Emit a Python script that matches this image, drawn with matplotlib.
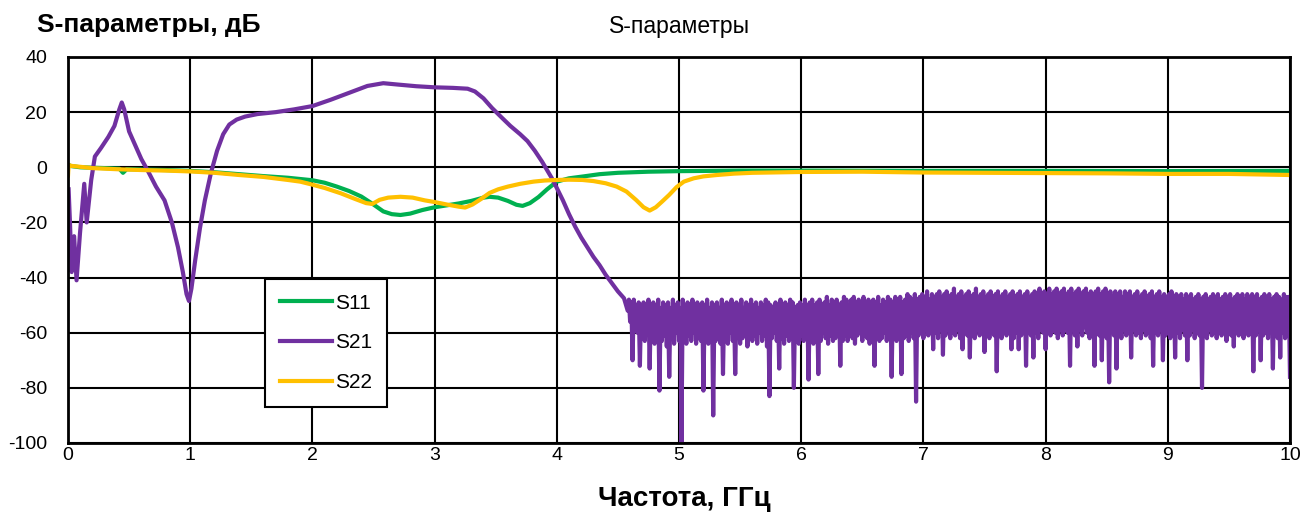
import numpy as np
import matplotlib.pyplot as plt
from matplotlib import font_manager

names = {f.name for f in font_manager.fontManager.ttflist}
narrow = "Liberation Sans Narrow" if "Liberation Sans Narrow" in names else "Liberation Sans"
plt.rcParams["font.family"] = ["Liberation Sans", "DejaVu Sans"]
plt.rcParams["axes.unicode_minus"] = False
plt.rcParams["path.simplify"] = False  # keep the noisy S21 band solid

# S11 (green)
s11_f = [0.0, 0.02, 0.1, 0.3, 0.42, 0.45, 0.48, 0.6, 0.8, 1.0, 1.2, 1.4, 1.6, 1.8, 2.0,
         2.1, 2.2, 2.3, 2.4, 2.5, 2.58, 2.65, 2.72, 2.8, 2.9, 3.0, 3.1, 3.2, 3.3, 3.4,
         3.45, 3.52, 3.6, 3.67, 3.72, 3.78, 3.85, 3.92, 4.0, 4.1, 4.22, 4.35, 4.5, 4.75,
         5.0, 5.5, 6.0, 7.0, 8.0, 9.0, 10.0]
s11_db = [1.0, 0.5, 0.0, -0.3, -0.5, -2.0, -0.7, -0.8, -1.0, -1.3, -1.8, -2.5, -3.2, -3.8, -4.7,
          -5.6, -7.0, -8.6, -10.6, -13.5, -16.0, -17.0, -17.3, -16.8, -15.5, -14.5, -13.8, -13.1, -12.2, -11.0,
          -10.7, -11.0, -12.2, -13.6, -14.0, -13.0, -10.8, -8.0, -5.2, -4.0, -3.3, -2.5, -2.0, -1.6,
          -1.4, -1.2, -1.2, -1.3, -1.3, -1.4, -1.3]

# S21 (purple), smooth part
s21_f = [0.005, 0.016, 0.03, 0.05, 0.07, 0.098, 0.133, 0.153, 0.19, 0.22, 0.27, 0.33, 0.38,
         0.42, 0.44, 0.46, 0.50, 0.55, 0.60, 0.65, 0.72, 0.79, 0.85, 0.90, 0.94, 0.97, 0.99,
         1.01, 1.04, 1.08, 1.12, 1.17, 1.22, 1.27, 1.32, 1.38, 1.45, 1.55, 1.70, 1.85, 2.00,
         2.15, 2.30, 2.45, 2.58, 2.70, 2.85, 3.00, 3.15, 3.27, 3.33, 3.40, 3.47, 3.55, 3.62,
         3.70, 3.76, 3.82, 3.88, 3.92, 3.96, 4.00, 4.05, 4.10, 4.15, 4.20, 4.25, 4.30, 4.35,
         4.40, 4.45, 4.50, 4.55]
s21_db = [-8, -20, -38, -25, -41, -24, -6, -20, -4.6, 3.9, 7, 11, 15,
          21, 23.5, 21, 13, 8, 3, -1, -7, -12, -20, -29, -38, -46, -48.5,
          -44, -34, -22, -12, -2, 6, 12, 15.5, 17.3, 18.4, 19.3, 20, 21, 22.2,
          24.5, 27, 29.5, 30.5, 30, 29.4, 29, 28.8, 28.5, 27.5, 25, 21.5, 18, 15,
          12, 9.5, 6, 2, -1, -4, -7.5, -12, -17, -21.5, -25.5, -29, -32.5, -35.5,
          -39, -42, -45, -47.5]

# S21 noise floor, read every 0.01 GHz from 4.58 GHz (one row = 0.1 GHz)
noise_start, noise_step = 4.58, 0.01
noise_db = [
    -52, -48, -56, -49, -70, -48, -58, -50, -60, -49,
    -72, -50, -61, -49, -63, -51, -59, -48, -73, -50,
    -62, -49, -64, -50, -60, -48, -81, -51, -63, -49,
    -61, -50, -65, -49, -76, -51, -62, -48, -64, -50,
    -60, -49, -63, -51, -100, -48, -62, -50, -64, -49,
    -61, -50, -63, -48, -60, -51, -64, -49, -62, -50,
    -63, -49, -81, -50, -61, -48, -64, -51, -62, -49,
    -90, -50, -63, -49, -61, -51, -64, -48, -75, -50,
    -62, -49, -64, -50, -60, -48, -63, -51, -75, -49,
    -61, -50, -64, -48, -62, -51, -60, -49, -65, -50,
    -62, -48, -63, -50, -61, -49, -64, -51, -60, -49,
    -63, -50, -61, -48, -65, -49, -83, -50, -62, -51,
    -60, -49, -63, -50, -73, -48, -62, -51, -64, -49,
    -61, -50, -63, -48, -60, -49, -80, -51, -62, -50,
    -64, -49, -61, -50, -63, -48, -60, -50, -77, -49,
    -62, -48, -64, -50, -61, -49, -75, -48, -63, -50,
    -60, -49, -62, -47, -64, -50, -61, -48, -63, -49,
    -62, -48, -60, -50, -72, -49, -63, -47, -61, -48,
    -63, -50, -60, -48, -62, -47, -64, -49, -61, -48,
    -60, -49, -63, -47, -61, -50, -62, -48, -64, -49,
    -61, -48, -72, -49, -60, -47, -63, -50, -62, -48,
    -60, -49, -63, -47, -61, -48, -76, -49, -62, -47,
    -63, -48, -60, -47, -75, -49, -62, -48, -61, -46,
    -63, -47, -60, -48, -62, -46, -85, -48, -61, -47,
    -60, -46, -62, -47, -59, -45, -61, -48, -60, -46,
    -66, -47, -60, -46, -62, -45, -59, -47, -68, -46,
    -61, -45, -59, -47, -62, -46, -60, -44, -61, -47,
    -59, -46, -62, -45, -66, -47, -60, -46, -61, -45,
    -69, -47, -60, -46, -62, -44, -59, -47, -61, -46,
    -60, -45, -67, -47, -59, -46, -62, -45, -60, -47,
    -61, -46, -74, -45, -60, -47, -62, -46, -59, -45,
    -61, -47, -60, -46, -66, -45, -62, -47, -60, -46,
    -66, -45, -61, -47, -59, -46, -72, -45, -60, -47,
    -61, -46, -69, -45, -60, -47, -62, -44, -59, -46,
    -60, -45, -66, -46, -59, -44, -61, -46, -58, -45,
    -60, -44, -62, -46, -59, -45, -61, -44, -58, -46,
    -60, -45, -72, -44, -59, -46, -61, -45, -65, -44,
    -59, -46, -61, -45, -58, -44, -60, -46, -62, -45,
    -59, -46, -72, -45, -60, -44, -61, -46, -70, -45,
    -60, -44, -62, -46, -78, -45, -59, -47, -61, -45,
    -73, -46, -60, -45, -62, -47, -59, -45, -61, -46,
    -60, -45, -69, -47, -59, -46, -61, -45, -60, -47,
    -62, -46, -59, -45, -61, -47, -60, -46, -62, -45,
    -72, -47, -60, -46, -61, -45, -59, -47, -70, -46,
    -61, -47, -60, -46, -62, -45, -59, -47, -69, -46,
    -60, -47, -62, -46, -59, -48, -61, -46, -70, -47,
    -61, -46, -59, -48, -62, -47, -60, -46, -61, -48,
    -80, -47, -60, -46, -62, -48, -59, -47, -61, -46,
    -60, -47, -62, -46, -59, -48, -61, -47, -60, -46,
    -63, -47, -60, -46, -61, -48, -65, -47, -59, -46,
    -61, -47, -60, -46, -62, -48, -59, -46, -61, -47,
    -60, -46, -74, -47, -61, -46, -59, -48, -70, -47,
    -61, -46, -60, -47, -62, -46, -59, -48, -73, -47,
    -60, -46, -62, -47, -69, -48, -60, -46, -62, -47,
    -61, -47, -76,
]

# S22 (yellow)
s22_f = [0.0, 0.005, 0.03, 0.2, 0.4, 0.6, 0.8, 1.0, 1.2, 1.4, 1.6, 1.8, 1.9, 2.0, 2.1,
         2.23, 2.35, 2.44, 2.49, 2.55, 2.62, 2.72, 2.82, 2.92, 3.0, 3.1, 3.2, 3.25, 3.31,
         3.38, 3.45, 3.52, 3.6, 3.7, 3.81, 3.9, 4.0, 4.1, 4.21, 4.3, 4.4, 4.49, 4.57, 4.65,
         4.71, 4.76, 4.81, 4.86, 4.92, 4.98, 5.04, 5.12, 5.2, 5.31, 5.45, 5.6, 6.0, 6.5,
         7.0, 7.5, 8.0, 8.5, 9.0, 9.5, 10.0]
s22_db = [-3, 0.8, 0.5, -0.3, -0.7, -1.0, -1.2, -1.5, -2.0, -2.8, -3.5, -4.6, -5.2, -6.3, -7.5,
          -9.4, -11.5, -13.0, -13.3, -11.8, -11.0, -10.7, -11.0, -12.0, -12.6, -13.5, -14.3, -14.6, -13.5,
          -11.5, -9.3, -8.0, -7.0, -6.0, -5.2, -4.8, -4.6, -4.5, -4.6, -5.0, -5.8, -7.0, -8.8, -11.9,
          -14.5, -15.7, -14.5, -12.5, -10.0, -7.2, -5.2, -4.0, -3.3, -2.8, -2.3, -2.0, -1.7, -1.6,
          -1.9, -2.0, -2.1, -2.2, -2.4, -2.4, -2.8]

noise_f = np.round(noise_start + noise_step * np.arange(len(noise_db)), 2)
s21_all_f = list(s21_f) + list(noise_f)
s21_all_db = list(s21_db) + list(noise_db)

fig = plt.figure(figsize=(13.09, 5.18), dpi=100)
ax = fig.add_axes([68 / 1309, 1 - 443 / 518, 1222 / 1309, 386 / 518])

ax.plot(s11_f, s11_db, color="#00B050", lw=3, label="S11", solid_joinstyle="round")
ax.plot(s21_all_f, s21_all_db, color="#7030A0", lw=3, label="S21", solid_joinstyle="round")
ax.plot(s22_f, s22_db, color="#FFC000", lw=3, label="S22", solid_joinstyle="round")

ax.set_xlim(0, 10)
ax.set_ylim(-100, 40)
ax.set_xticks(range(0, 11))
ax.set_yticks(range(-100, 41, 20))
ax.grid(True, color="black", lw=1.5)
ax.set_axisbelow(True)
ax.tick_params(length=0, labelsize=14)
ax.tick_params(axis="x", pad=3)
ax.tick_params(axis="y", pad=15)
for s in ax.spines.values():
    s.set_color("black")
    s.set_linewidth(2)

leg = ax.legend(loc="upper left", bbox_to_anchor=((265 - 68) / 1222, (443 - 279) / 386),
                fontsize=15, frameon=True, fancybox=False, framealpha=1,
                edgecolor="black", handlelength=2.5, labelspacing=1.0,
                borderpad=0.7, handletextpad=0.15, borderaxespad=0)
leg.get_frame().set_linewidth(1.5)

fig.text(680 / 1309, 1 - 27 / 518, "S-параметры", ha="center", va="center", fontsize=16.5)
fig.text(37 / 1309, 1 - 25 / 518, "S-параметры, дБ", ha="left", va="center",
         fontsize=19, fontweight="bold")
fig.text(684 / 1309, 1 - 499 / 518, "Частота, ГГц", ha="center", va="center",
         fontsize=20, fontweight="bold", family=[narrow, "DejaVu Sans"])

fig.savefig("out.png", dpi=100)
